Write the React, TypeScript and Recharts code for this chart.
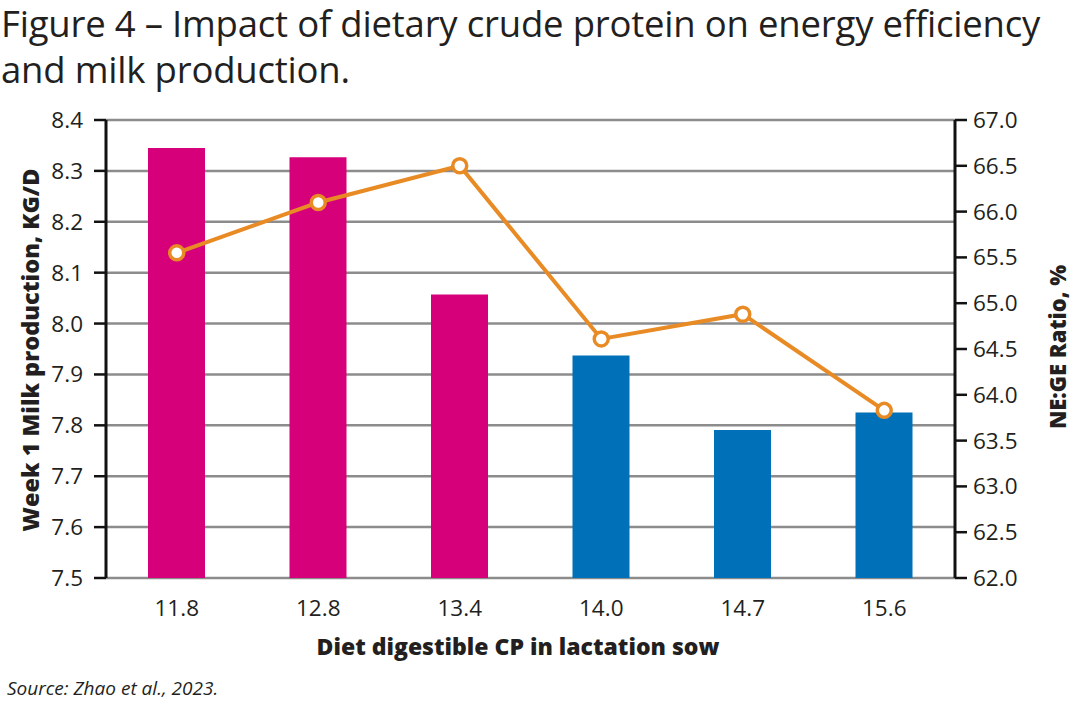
import React from 'react';
import { ComposedChart, Bar, Line, XAxis, YAxis, CartesianGrid, Cell } from 'recharts';

// Diet digestible CP levels (x categories)
const cpLevels = ['11.8', '12.8', '13.4', '14.0', '14.7', '15.6'];
// Week 1 milk production, kg/d (bars, left axis)
const milkYield = [8.345, 8.327, 8.057, 7.937, 7.791, 7.825];
// NE:GE ratio, % (line, right axis)
const neGeRatio = [65.55, 66.1, 66.5, 64.61, 64.88, 63.83];

const leftTicks = [7.5, 7.6, 7.7, 7.8, 7.9, 8.0, 8.1, 8.2, 8.3, 8.4];
const rightTicks = [62.0, 62.5, 63.0, 63.5, 64.0, 64.5, 65.0, 65.5, 66.0, 66.5, 67.0];
const boundaryTicks = [0, 1, 2, 3, 4, 5, 6];

const barColors = ['#d6007b', '#d6007b', '#d6007b', '#0070b8', '#0070b8', '#0070b8'];

const FONT = '"Open Sans", "Noto Sans", sans-serif';
const INK = '#231f20';

const data = cpLevels.map((cp, i) => ({
    cp,
    pos: i + 0.5,
    milk: milkYield[i],
    ratio: neGeRatio[i],
}));

const tickStyle = { fontSize: 22.5, fill: INK, fontFamily: FONT };

export default function App() {
    return (
        <div style={{ position: 'absolute', left: 0, top: 0, width: 1080, height: 701, background: '#fff', fontFamily: FONT, color: INK }}>
            <div style={{ position: 'absolute', left: 1, top: 0, fontSize: 36.5, lineHeight: '46px', letterSpacing: '-0.2px', whiteSpace: 'nowrap' }}>
                Figure 4 – Impact of dietary crude protein on energy efficiency<br />and milk production.
            </div>

            <ComposedChart
                width={1080}
                height={701}
                data={data}
                margin={{ top: 120, right: 75, left: 56, bottom: 83 }}
            >
                <CartesianGrid
                    yAxisId="left"
                    xAxisId="cat"
                    vertical={false}
                    stroke="#8c8c8c"
                    strokeWidth={2.5}
                />
                <XAxis
                    xAxisId="edge"
                    type="number"
                    dataKey="pos"
                    domain={[0, 6]}
                    ticks={boundaryTicks}
                    tickFormatter={() => ''}
                    height={0}
                    axisLine={{ stroke: '#111', strokeWidth: 3 }}
                    tickLine={{ stroke: '#111', strokeWidth: 2.5 }}
                    tickSize={11}
                    allowDataOverflow
                />
                <XAxis
                    xAxisId="cat"
                    dataKey="cp"
                    height={40}
                    axisLine={false}
                    tickLine={false}
                    tickSize={0}
                    tickMargin={22}
                    tick={tickStyle}
                />
                <YAxis
                    yAxisId="left"
                    domain={[7.5, 8.4]}
                    ticks={leftTicks}
                    tickFormatter={(v: number) => v.toFixed(1)}
                    width={50}
                    axisLine={{ stroke: '#111', strokeWidth: 3 }}
                    tickLine={{ stroke: '#111', strokeWidth: 2.5 }}
                    tickSize={12}
                    tickMargin={11}
                    tick={tickStyle}
                    allowDataOverflow
                />
                <YAxis
                    yAxisId="right"
                    orientation="right"
                    domain={[62, 67]}
                    ticks={rightTicks}
                    tickFormatter={(v: number) => v.toFixed(1)}
                    width={50}
                    axisLine={{ stroke: '#111', strokeWidth: 3 }}
                    tickLine={{ stroke: '#111', strokeWidth: 2.5 }}
                    tickSize={12}
                    tickMargin={6}
                    tick={tickStyle}
                    allowDataOverflow
                />
                <Bar xAxisId="cat" yAxisId="left" dataKey="milk" barSize={57} isAnimationActive={false}>
                    {data.map((d, i) => (
                        <Cell key={d.cp} fill={barColors[i]} />
                    ))}
                </Bar>
                <Line
                    xAxisId="cat"
                    yAxisId="right"
                    dataKey="ratio"
                    type="linear"
                    stroke="#e98b25"
                    strokeWidth={4}
                    dot={{ r: 7, fill: '#fff', stroke: '#e98b25', strokeWidth: 3.5 }}
                    activeDot={false}
                    isAnimationActive={false}
                />
            </ComposedChart>

            <div style={{ position: 'absolute', left: 30, top: 350, transform: 'translate(-50%, -50%) rotate(-90deg)', whiteSpace: 'nowrap', fontWeight: 800, fontSize: 23.5 }}>
                Week 1 Milk production, KG/D
            </div>
            <div style={{ position: 'absolute', left: 1057, top: 347, transform: 'translate(-50%, -50%) rotate(-90deg)', whiteSpace: 'nowrap', fontWeight: 800, fontSize: 22 }}>
                NE:GE Ratio, %
            </div>
            <div style={{ position: 'absolute', left: 518, top: 646, transform: 'translate(-50%, -50%)', whiteSpace: 'nowrap', fontWeight: 800, fontSize: 23 }}>
                Diet digestible CP in lactation sow
            </div>
            <div style={{ position: 'absolute', left: 7, top: 675, fontStyle: 'italic', fontSize: 19 }}>
                Source: Zhao et al., 2023.
            </div>
        </div>
    );
}
